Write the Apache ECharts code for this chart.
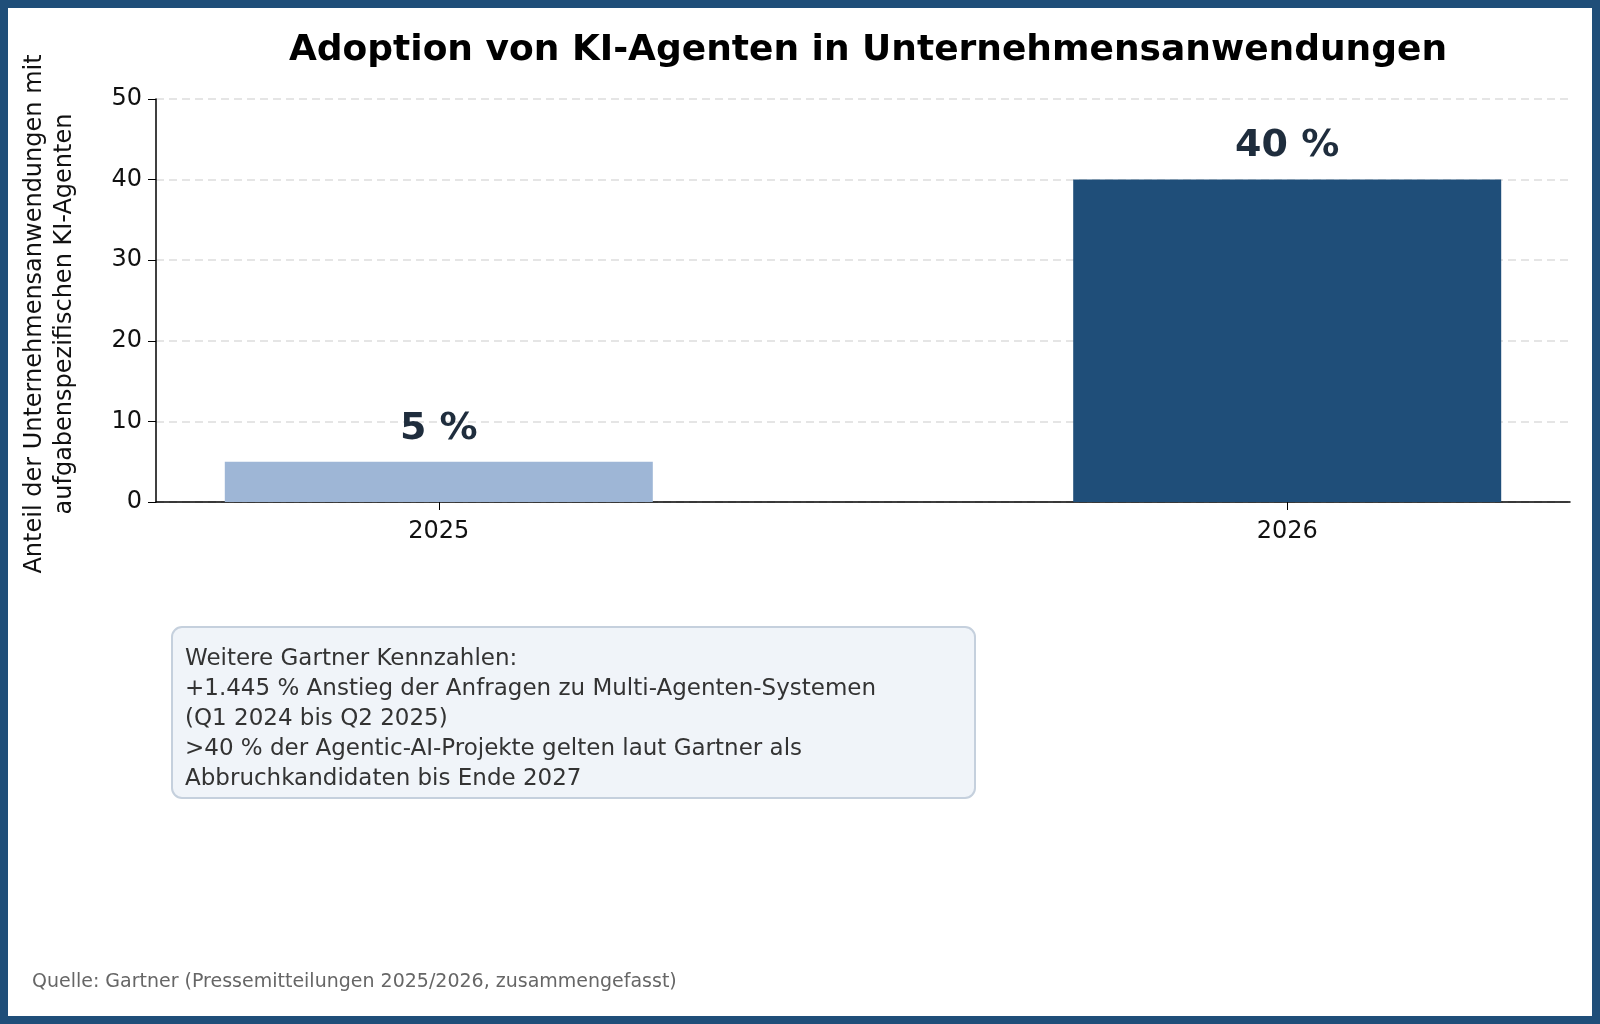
<!DOCTYPE html>
<html><head><meta charset="utf-8">
<script src="https://cdn.jsdelivr.net/npm/echarts@6/dist/echarts.min.js"></script>
<style>
html,body{margin:0;padding:0;background:#fff}
#wrap{box-sizing:border-box;width:1600px;height:1024px;border:8px solid #1f4e79}
#chart{width:1584px;height:1008px}
</style></head><body>
<div id="wrap"><div id="chart"></div></div>
<script>
// Data
const years = ['', '2025', '', '', '2026', ''];
const shares = ['-', 5, '-', '-', 40, '-'];
const barColors = { '2025': '#9eb6d6', '2026': '#1f4e79' };
const noteLines = [
  'Weitere Gartner Kennzahlen:',
  '+1.445 % Anstieg der Anfragen zu Multi-Agenten-Systemen',
  '(Q1 2024 bis Q2 2025)',
  '>40 % der Agentic-AI-Projekte gelten laut Gartner als',
  'Abbruchkandidaten bis Ende 2027'
];

const chart = echarts.init(document.getElementById('chart'));
const font = 'DejaVu Sans';
chart.setOption({
  animation: false,
  textStyle: { fontFamily: font },
  title: {
    text: 'Adoption von KI-Agenten in Unternehmensanwendungen',
    left: 855, top: 20, textAlign: 'center',
    textStyle: { fontSize: 36, fontWeight: 'bold', color: '#000', fontFamily: font }
  },
  grid: { left: 148, right: 22, top: 91, bottom: 514 },
  xAxis: {
    type: 'category', data: years, boundaryGap: false,
    axisLine: { lineStyle: { color: '#000', width: 1.5 } },
    axisTick: { interval: (i, v) => v !== '', length: 8, lineStyle: { color: '#000' } },
    axisLabel: { interval: 0, color: '#111', fontSize: 24, margin: 18 },
    splitLine: { show: false }
  },
  yAxis: {
    type: 'value', min: 0, max: 50, interval: 10,
    axisLine: { show: true, lineStyle: { color: '#000', width: 1.5 } },
    axisTick: { show: true, length: 8, lineStyle: { color: '#000' } },
    axisLabel: { color: '#111', fontSize: 24, margin: 14 },
    splitLine: { lineStyle: { color: '#dddddd', type: [8, 5], width: 1.5 } }
  },
  series: [{
    type: 'bar', barWidth: 428,
    data: shares.map((v, i) => v === '-' ? v : { value: v, itemStyle: { color: barColors[years[i]] } }),
    label: {
      show: true, position: 'top', distance: 14,
      formatter: p => p.value + ' %',
      fontSize: 38, fontWeight: 'bold', color: '#1f2d3d'
    }
  }],
  graphic: [
    {
      type: 'text', x: 42, y: 306, rotation: Math.PI / 2,
      style: {
        text: 'Anteil der Unternehmensanwendungen mit\naufgabenspezifischen KI-Agenten',
        fill: '#111', font: '24px "DejaVu Sans"', align: 'center', verticalAlign: 'middle', lineHeight: 30
      },
      originX: 0, originY: 0
    },
    {
      type: 'rect', shape: { x: 164, y: 619, width: 803, height: 171, r: 10 },
      style: { fill: '#f0f4f9', stroke: '#c5d0dd', lineWidth: 2 }
    },
    {
      type: 'text', x: 177, y: 636,
      style: { text: noteLines.join('\n'), fill: '#333', font: '23px "DejaVu Sans"', lineHeight: 30 }
    },
    {
      type: 'text', x: 24, y: 965,
      style: { text: 'Quelle: Gartner (Pressemitteilungen 2025/2026, zusammengefasst)', fill: '#666', font: '19px "DejaVu Sans"' }
    }
  ]
});
</script>
</body></html>
